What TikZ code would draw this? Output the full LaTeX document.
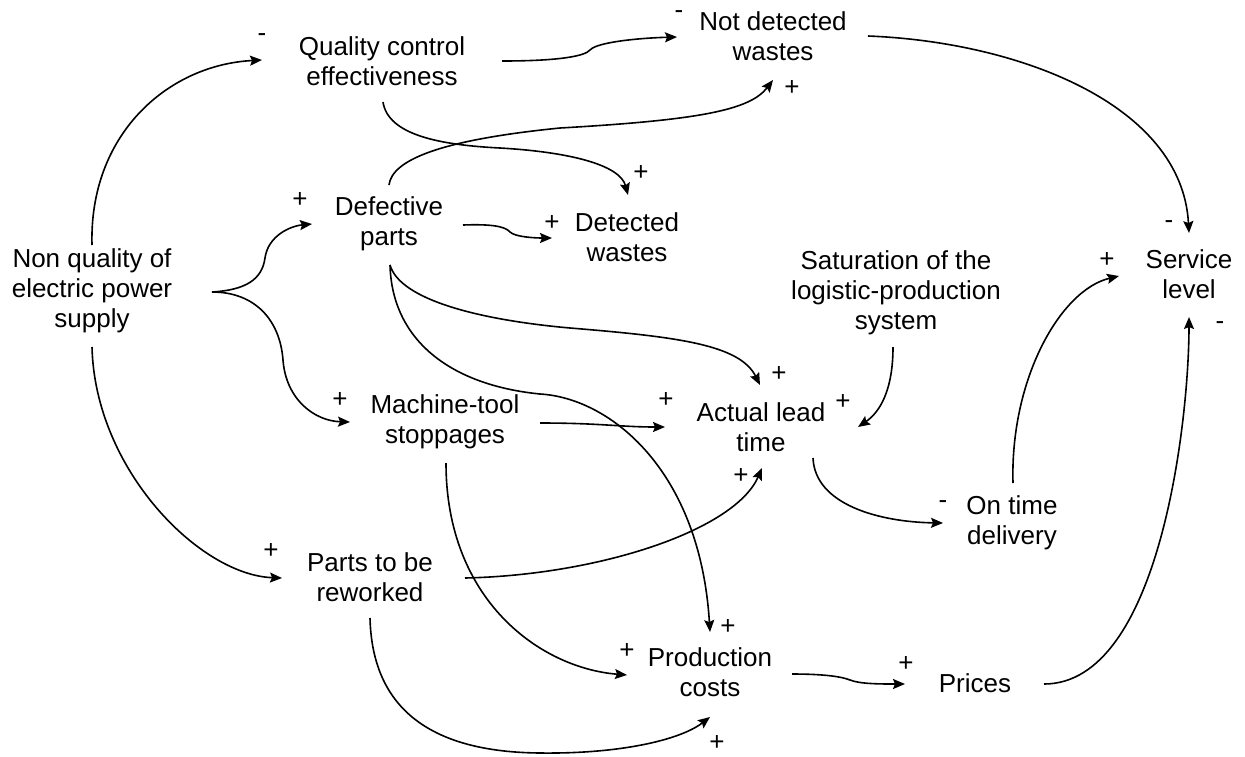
\documentclass[tikz,border=0pt]{standalone}
\usepackage{fontspec}
\setmainfont{Liberation Sans}
\usetikzlibrary{arrows.meta,calc}

\begin{document}
\begin{tikzpicture}[x=1pt,y=-1pt,
  var/.style={align=center,inner sep=0pt,font=\fontsize{26}{30}\selectfont},
  sign/.style={inner sep=0pt,font=\fontsize{26}{30}\selectfont},
  link/.style={line width=1.6pt,-{Stealth[length=12pt,width=10pt,inset=2pt]}}]
\useasboundingbox (0,0) rectangle (1245,756);

% variables
\node[var] (qc)  at (382,61)   {Quality control\\effectiveness};
\node[var] (nd)  at (773,36)   {Not detected\\wastes};
\node[var] (def) at (389,224)  {Defective\\parts};
\node[var] (dw)  at (627,237)  {Detected\\wastes};
\node[var] (nq)  at (92,291)   {Non quality of\\electric power\\supply};
\node[var] (sat) at (896,293)  {Saturation of the\\logistic-production\\system};
\node[var] (sl)  at (1189,274) {Service\\level};
\node[var] (mt)  at (445,422)  {Machine-tool\\stoppages};
\node[var] (alt) at (761,427)  {Actual lead\\time};
\node[var] (otd) at (1012,523) {On time\\delivery};
\node[var] (ptr) at (370,577)  {Parts to be\\reworked};
\node[var] (pc)  at (710,672)  {Production\\costs};
\node[var] (pr)  at (975,683)  {Prices};

% causal links
\draw[link] ($(nq)+(0,-46)$) .. controls (89,135) and (167,65) .. ($(qc)+(-120,-1)$);
\draw[link] ($(nq)+(120,1)$) .. controls (245,290) and (262,280) .. (265,258)
  .. controls (268,236) and (290,226) .. ($(def)+(-77,0)$);
\draw[link] ($(nq)+(120,1)$) .. controls (255,292) and (280,320) .. (283,360)
  .. controls (286,400) and (315,421) .. ($(mt)+(-95,0)$);
\draw[link] ($(nq)+(0,56)$) .. controls (95,470) and (200,575) .. ($(ptr)+(-88,1)$);
\draw[link] ($(qc)+(120,0)$) .. controls (560,61) and (585,56) .. (590,50)
  .. controls (597,42) and (640,38) .. ($(nd)+(-96,1)$);
\draw[link] ($(qc)+(1,41)$) .. controls (388,135) and (440,145) .. (500,148)
  .. controls (570,152) and (620,165) .. ($(dw)+(1,-42)$);
\draw[link] ($(def)+(0,-39)$) .. controls (392,160) and (440,140) .. (560,128)
  .. controls (700,120) and (750,110) .. ($(nd)+(0,44)$);
\draw[link] ($(def)+(74,1)$) .. controls (490,224) and (505,226) .. (510,232)
  .. controls (515,237) and (535,238) .. ($(dw)+(-75,1)$);
\draw[link] ($(def)+(1,41)$) .. controls (400,300) and (480,320) .. (570,328)
  .. controls (680,337) and (740,345) .. ($(alt)+(-1,-42)$);
\draw[link] ($(def)+(1,41)$) .. controls (392,340) and (450,385) .. (540,394)
  .. controls (610,398) and (700,470) .. ($(pc)+(0,-40)$);
\draw[link] ($(mt)+(95,1)$) .. controls (600,423) and (620,427) .. ($(alt)+(-96,0)$);
\draw[link] ($(mt)+(1,41)$) .. controls (446,600) and (540,668) .. ($(pc)+(-83,3)$);
\draw[link] ($(sat)+(-3,54)$) .. controls (893,390) and (880,412) .. ($(alt)+(97,0)$);
\draw[link] ($(alt)+(52,31)$) .. controls (815,505) and (880,522) .. ($(otd)+(-69,0)$);
\draw[link] ($(otd)+(1,-40)$) .. controls (1010,380) and (1060,290) .. ($(sl)+(-70,2)$);
\draw[link] ($(ptr)+(95,1)$) .. controls (600,575) and (735,530) .. ($(alt)+(1,41)$);
\draw[link] ($(ptr)+(0,41)$) .. controls (372,700) and (420,752) .. (540,753)
  .. controls (620,754) and (680,740) .. ($(pc)+(0,45)$);
\draw[link] ($(pc)+(82,2)$) .. controls (820,674) and (840,676) .. (850,680)
  .. controls (860,684) and (880,684) .. ($(pr)+(-70,1)$);
\draw[link] ($(pr)+(69,1)$) .. controls (1160,684) and (1189,420) .. ($(sl)+(0,43)$);
\draw[link] ($(nd)+(95,0)$) .. controls (1020,42) and (1182,105) .. ($(sl)+(0,-41)$);

% link polarities
\node[sign] (p1)  at (262,38)   {-};
\node[sign] (p2)  at (679,15)   {-};
\node[sign] (p3)  at (792,88)   {+};
\node[sign] (p4)  at (641,173)  {+};
\node[sign] (p5)  at (300,200)  {+};
\node[sign] (p6)  at (552,223)  {+};
\node[sign] (p7)  at (1169,225) {-};
\node[sign] (p8)  at (1107,260) {+};
\node[sign] (p9)  at (1220,326) {-};
\node[sign] (p10) at (779,374)  {+};
\node[sign] (p11) at (666,400)  {+};
\node[sign] (p12) at (843,402)  {+};
\node[sign] (p13) at (741,476)  {+};
\node[sign] (p14) at (340,400)  {+};
\node[sign] (p15) at (943,505)  {-};
\node[sign] (p16) at (271,551)  {+};
\node[sign] (p17) at (728,627)  {+};
\node[sign] (p18) at (627,651)  {+};
\node[sign] (p19) at (906,664)  {+};
\node[sign] (p20) at (717,743)  {+};
\end{tikzpicture}
\end{document}
